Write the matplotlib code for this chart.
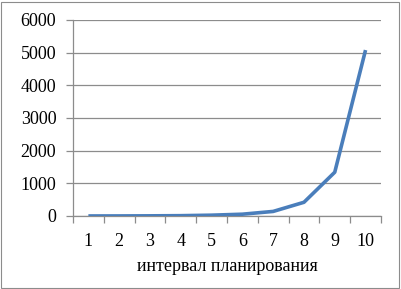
import matplotlib
matplotlib.use("Agg")
import matplotlib.pyplot as plt
from matplotlib.patches import Rectangle
from matplotlib.ticker import FixedLocator, NullFormatter

categories = [1, 2, 3, 4, 5, 6, 7, 8, 9, 10]
values = [1, 2, 5, 10, 25, 55, 140, 420, 1340, 5080]
yticks = [0, 1000, 2000, 3000, 4000, 5000, 6000]
xlabel = "интервал планирования"

plt.rcParams['font.family'] = ['Liberation Serif', 'DejaVu Serif']

fig = plt.figure(figsize=(4.01, 2.89), dpi=100)
ax = fig.add_axes([0.182, 0.2526, 0.768, 0.6782])

grid_c = '#8c8c8c'
for y in yticks:
    ax.axhline(y, color=grid_c, lw=0.9, zorder=1)

ax.plot(categories, values, color='#4A7EBB', lw=2.6, solid_capstyle='butt', zorder=3)

ax.set_xlim(0.5, 10.5)
ax.set_ylim(0, 6000)
ax.set_yticks(yticks)
ax.set_yticklabels([str(v) for v in yticks], fontsize=13)

ax.xaxis.set_major_locator(FixedLocator([i + 0.5 for i in range(0, 11)]))
ax.xaxis.set_major_formatter(NullFormatter())
ax.xaxis.set_minor_locator(FixedLocator(categories))
ax.set_xticklabels([str(c) for c in categories], minor=True, fontsize=13)
ax.tick_params(axis='x', which='minor', length=0, pad=12)
ax.tick_params(axis='x', which='major', length=5, color=grid_c, width=0.9, direction='out')
ax.tick_params(axis='y', length=5, color=grid_c, width=0.9, pad=7)

for s in ['top', 'right']:
    ax.spines[s].set_visible(False)
for s in ['left', 'bottom']:
    ax.spines[s].set_color(grid_c)
    ax.spines[s].set_linewidth(0.9)

ax.set_xlabel(xlabel, fontsize=13, labelpad=6)

fig.patches.append(Rectangle((0.003, 0.004), 0.993, 0.99, transform=fig.transFigure,
                             fill=False, edgecolor='#8c8c8c', lw=0.8))

fig.savefig('out.png', dpi=100)
